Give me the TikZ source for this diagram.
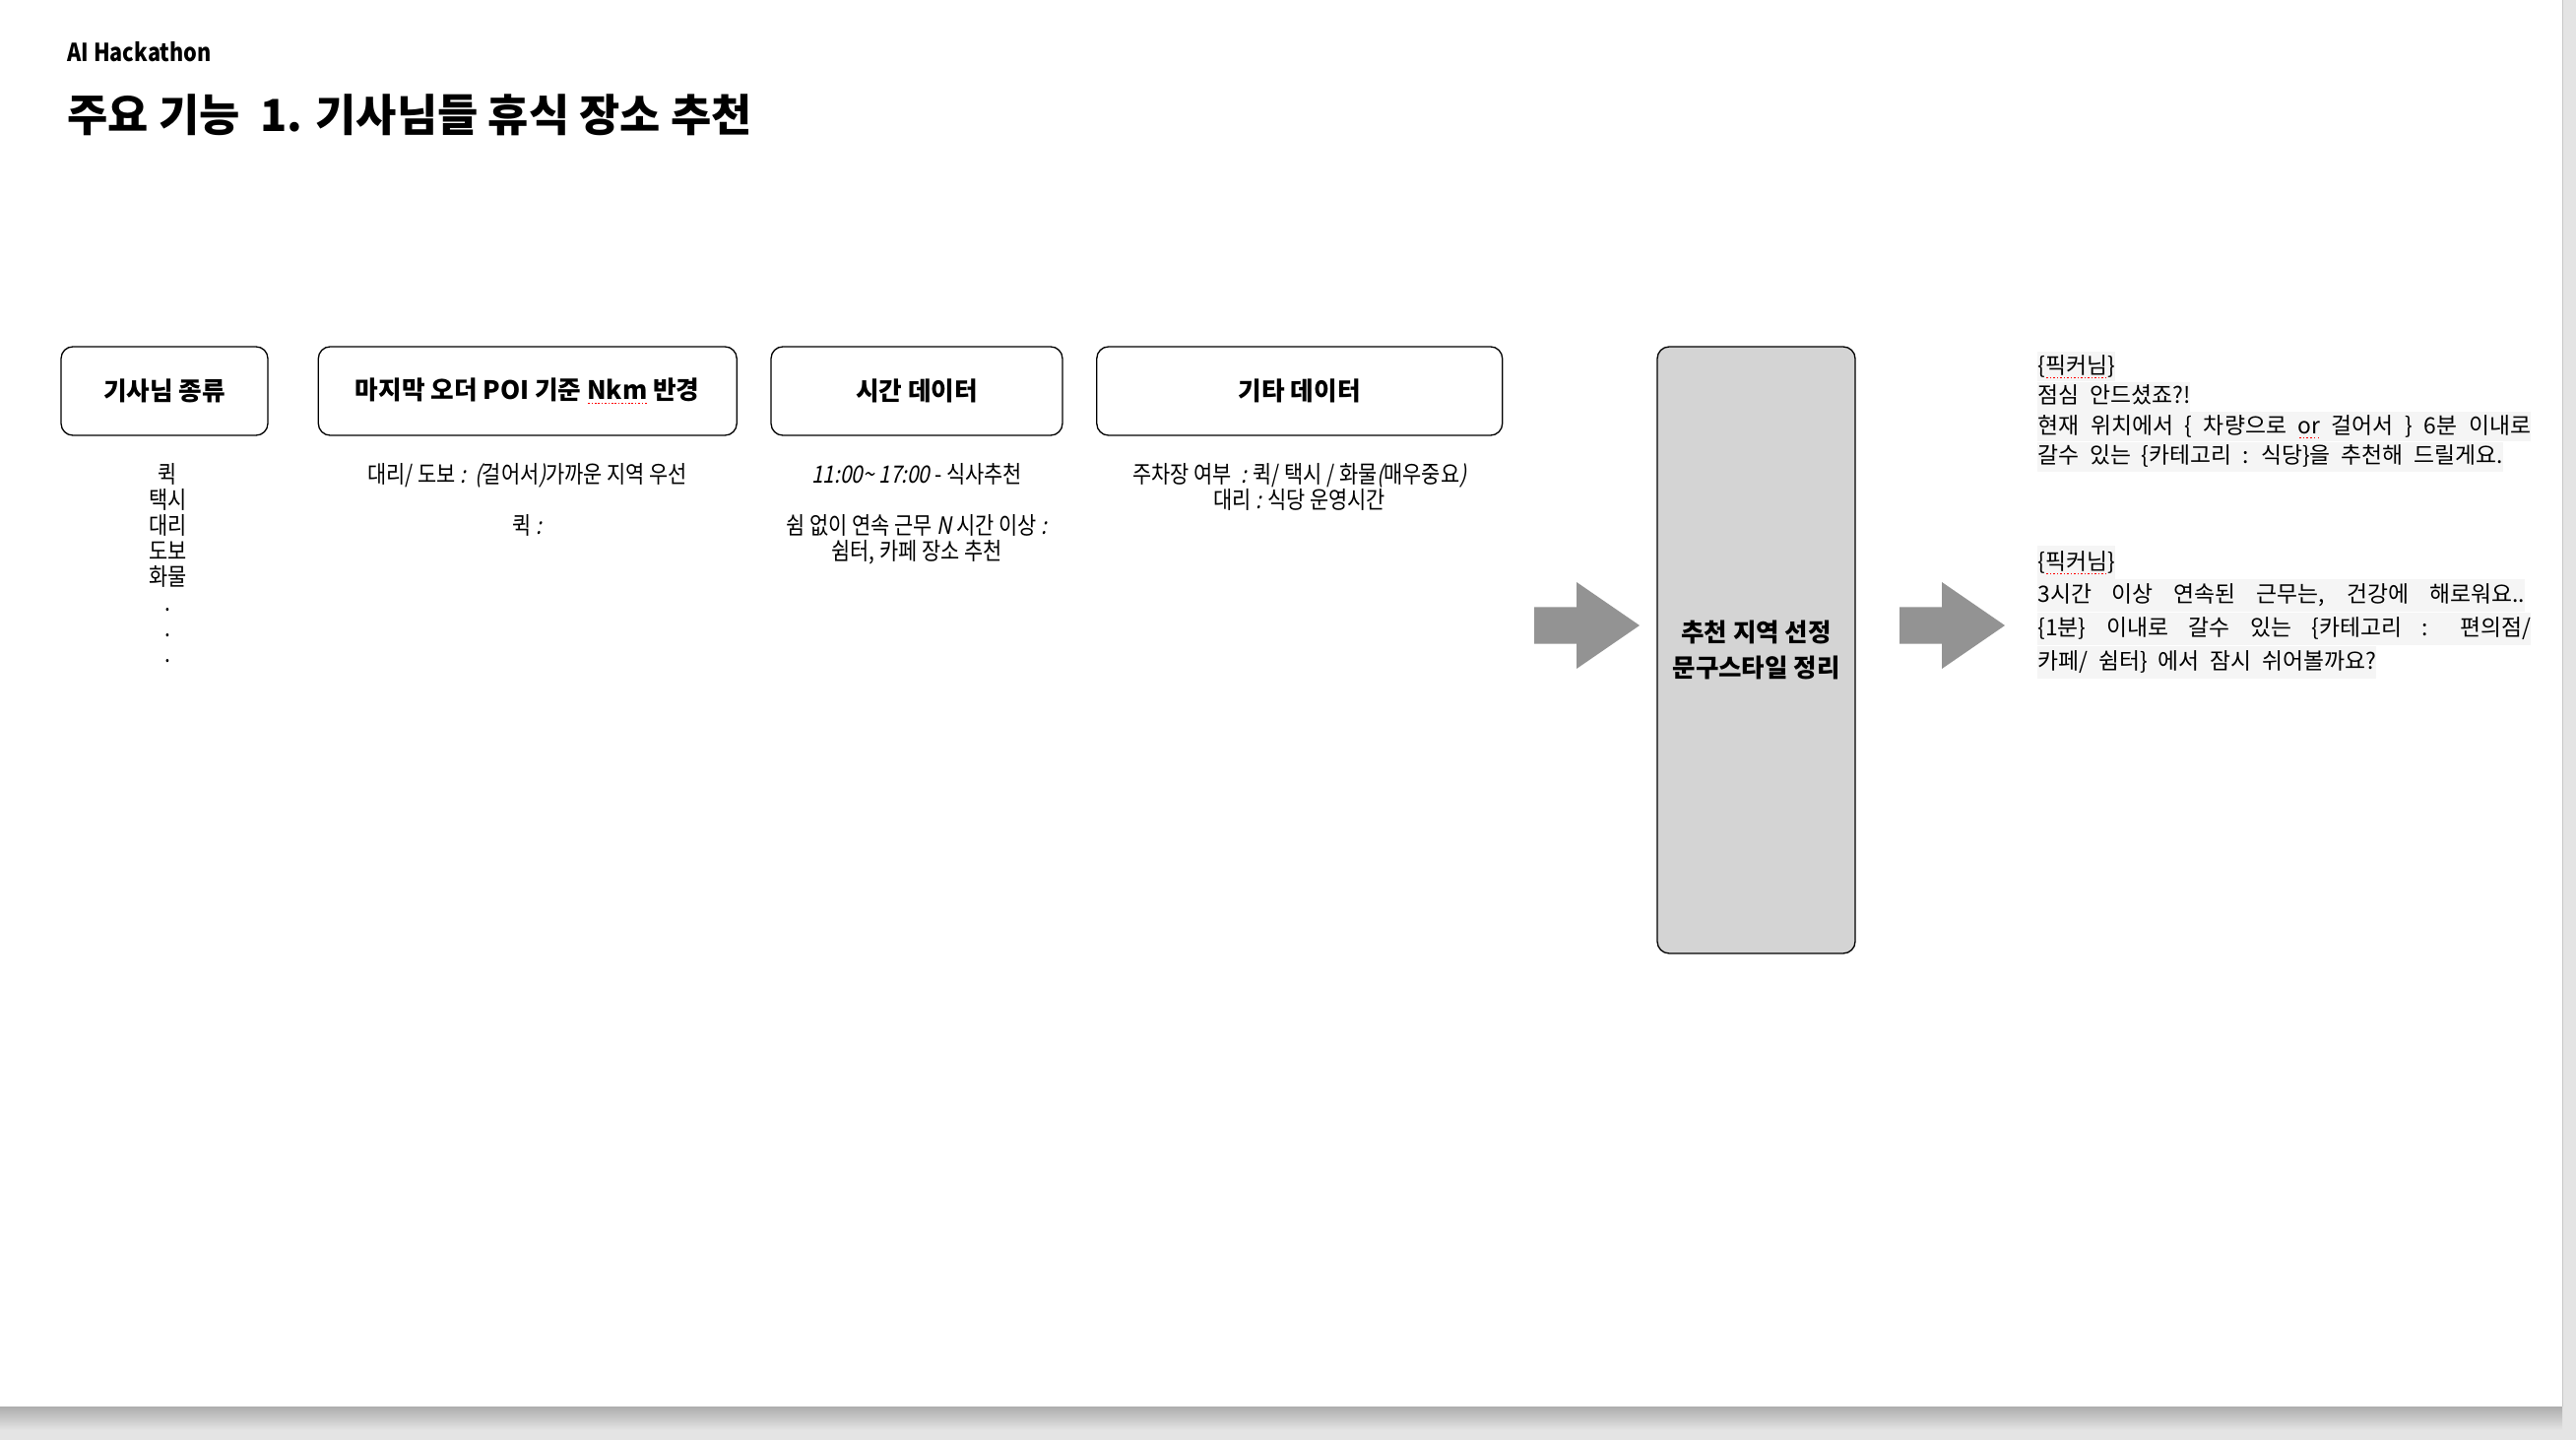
\documentclass[tikz,border=0pt]{standalone}
\usepackage{fontspec}
\usetikzlibrary{positioning}

\setmainfont{Noto Sans CJK KR}
\newfontfamily\notefont[FakeStretch=0.86,AutoFakeSlant=0.2]{Noto Sans CJK KR}
\newfontfamily\codefont[WordSpace=2.1]{Noto Sans CJK KR}

\definecolor{hubgray}{RGB}{212,212,212}
\definecolor{arrowgray}{RGB}{147,147,147}
\definecolor{codebg}{RGB}{245,245,245}
\definecolor{deskgray}{RGB}{228,228,228}

% red dotted spell-check line
\newsavebox{\spellbox}
\newcommand{\spellmark}[1]{\sbox{\spellbox}{#1}\leavevmode\rlap{\usebox{\spellbox}}%
  \raisebox{-3pt}{\hbox to \wd\spellbox{\color{red}\xleaders\hbox{\kern0.5pt\rule{0.9pt}{0.9pt}\kern0.5pt}\hfill}}}

\tikzset{
  card/.style={draw, line width=0.75pt, rounded corners=0.24cm, minimum height=1.8cm,
               font=\bfseries\fontsize{14.6}{16}\selectfont},
  note/.style={align=center, inner sep=0pt, font=\notefont\fontsize{13.8}{14.8}\selectfont},
  codeline/.style={fill=codebg, inner xsep=0pt, inner ysep=1pt, text height=11.5pt, text depth=3.5pt,
               font=\codefont\fontsize{13}{15}\selectfont}
}

\begin{document}
\begin{tikzpicture}[x=0.02cm, y=-0.02cm]
  \useasboundingbox (0,0) rectangle (2616,1462);

  % slide page
  \fill[deskgray] (0,0) rectangle (2616,1462);
  \shade[top color=black!32, bottom color=deskgray] (0,1428) rectangle (2602,1452);
  \fill[white] (0,0) rectangle (2602,1428);
  \draw[black!22, line width=0.6pt] (2602,0) -- (2602,1428);

  % heading
  \node[anchor=west, inner sep=0pt, font=\notefont\bfseries\fontsize{14.3}{16}\selectfont] (event) at (68,53) {AI Hackathon};
  \node[anchor=west, inner sep=0pt, font=\bfseries\fontsize{25.5}{30}\selectfont] (title) at (68,117)
    {주요 기능\ \ 1. 기사님들 휴식 장소 추천};

  % input data
  \node[card, minimum width=4.2cm] (kind) at (167,397) {기사님 종류};
  \node[card, minimum width=8.5cm, right=1cm of kind] (poi) {마지막 오더 POI 기준 \spellmark{Nkm} 반경};
  \node[card, minimum width=5.92cm, right=0.67cm of poi] (time) {시간 데이터};
  \node[card, minimum width=8.24cm, right=0.67cm of time] (etc) {기타 데이터};

  \node[note, below=0.54cm of kind, xshift=0.07cm] (kindNote) {퀵\\택시\\대리\\도보\\화물\\.\\.\\.};
  \node[note, below=0.54cm of poi] (poiNote) {대리/ 도보 \textit{:}\ \ \textit{(}걸어서\textit{)}가까운 지역 우선\\[14.8pt]퀵 \textit{:}};
  \node[note, below=0.54cm of time] (timeNote)
    {\textit{11:00{\char"7E} 17:00} - 식사추천\\[14.8pt]쉼 없이 연속 근무 \textit{N} 시간 이상 \textit{:}\\쉼터, 카페 장소 추천};
  \node[note, below=0.54cm of etc] (etcNote)
    {주차장 여부\ \ \textit{:} 퀵/ 택시 / 화물\textit{(}매우중요\textit{)}\\대리 \textit{:} 식당 운영시간};

  % selection step
  \node[draw, line width=0.75pt, fill=hubgray, rounded corners=0.24cm, minimum width=4.02cm, minimum height=12.32cm,
        align=center, font=\bfseries\fontsize{14.5}{21}\selectfont] (hub) at (1783.5,660)
    {추천 지역 선정\\문구스타일 정리};

  \coordinate (toHub) at (1558,635);
  \coordinate (fromHub) at (1929,635);
  \foreach \tail in {toHub,fromHub}
    \fill[arrowgray] (\tail) ++(0,-18.5) -- ++(43,0) -- ++(0,-25.5) -- ++(64,44)
      -- ++(-64,44) -- ++(0,-25.5) -- ++(-43,0) -- cycle;

  % message samples
  \node[codeline, anchor=west] (m1a) at (2069,372) {\{\spellmark{픽커님}\}\ };
  \node[codeline, below=0pt of m1a.south west, anchor=north west] (m1b) {점심 안드셨죠?!};
  \node[codeline, below=0pt of m1b.south west, anchor=north west] (m1c)
    {\makebox[10.02cm][s]{현재 위치에서 \{ 차량으로 \spellmark{or} 걸어서 \} 6분 이내로}};
  \node[codeline, below=0pt of m1c.south west, anchor=north west] (m1d) {갈수 있는 \{카테고리 : 식당\}을 추천해 드릴게요.\ };

  \node[codeline, inner ysep=1.9pt, anchor=west] (m2a) at (2069,571) {\{\spellmark{픽커님}\}};
  \node[codeline, inner ysep=1.9pt, below=0pt of m2a.south west, anchor=north west] (m2b)
    {\makebox[9.9cm][s]{3시간 이상 연속된 근무는, 건강에 해로워요..}};
  \node[codeline, inner ysep=1.9pt, below=0pt of m2b.south west, anchor=north west] (m2c)
    {\makebox[10.02cm][s]{\{1분\} 이내로 갈수 있는 \{카테고리 : 편의점/}};
  \node[codeline, inner ysep=1.9pt, below=0pt of m2c.south west, anchor=north west] (m2d) {카페/ 쉼터\} 에서 잠시 쉬어볼까요?};
\end{tikzpicture}
\end{document}
